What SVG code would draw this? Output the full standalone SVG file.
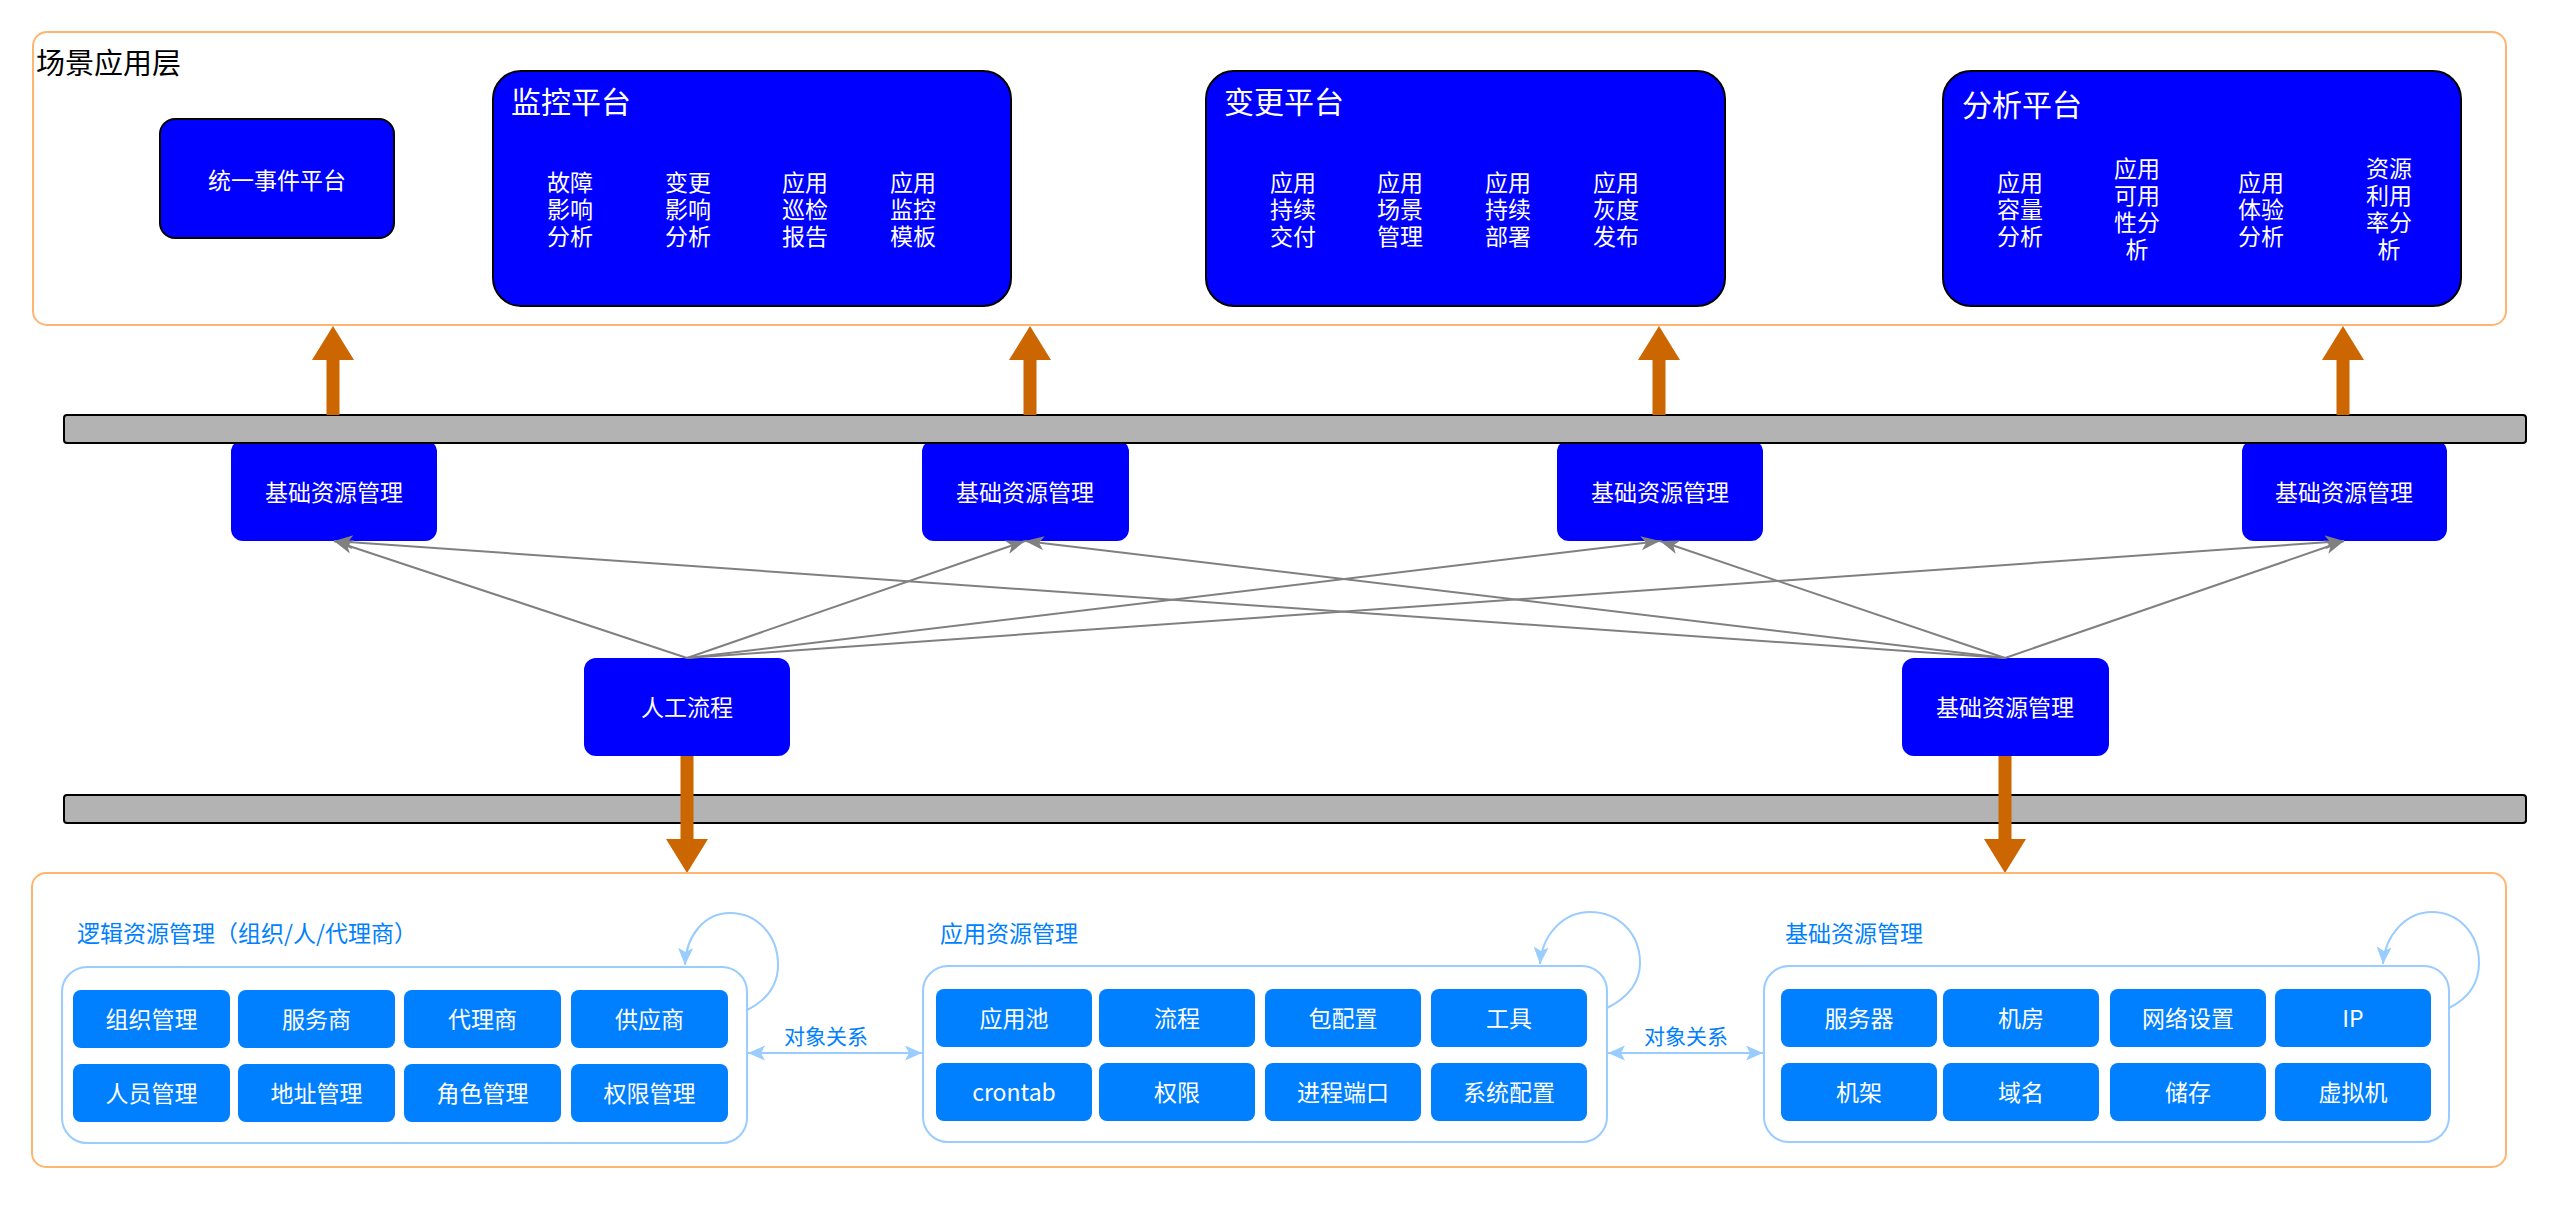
<svg xmlns="http://www.w3.org/2000/svg" width="2560" height="1212" viewBox="0 0 2560 1212">
<defs>
<style>
text{font-family:"Noto Sans CJK SC","Noto Sans",sans-serif;}
.outer{fill:#fff;stroke:#FFB570;stroke-width:2;}
.plat{fill:#0000FF;stroke:#000;stroke-width:2;}
.mid{fill:#0000FF;stroke:none;}
.bar{fill:#B3B3B3;stroke:#000;stroke-width:2;}
.wt{fill:#fff;font-size:23px;text-anchor:middle;}
.pt{fill:#fff;font-size:30px;}
.conn{stroke:#808080;stroke-width:2;fill:none;marker-end:url(#ga);}
.oarr{fill:#CC6600;stroke:none;}
.cont{fill:#fff;stroke:#99CCFF;stroke-width:2;}
.cell{fill:#007FFF;stroke:none;}
.gt{fill:#007FFF;font-size:23px;}
.lb{fill:#007FFF;font-size:21px;text-anchor:middle;}
.lbl{stroke:#99CCFF;stroke-width:2;fill:none;}
</style>
<marker id="ga" markerUnits="userSpaceOnUse" markerWidth="22" markerHeight="16" refX="19" refY="7" orient="auto">
<path d="M0,0 L19,7 L0,14 L5,7 z" fill="#808080"/>
</marker>
<marker id="ba" markerUnits="userSpaceOnUse" markerWidth="20" markerHeight="16" refX="17" refY="7.5" orient="auto-start-reverse">
<path d="M0,0 L17,7.5 L0,15 L4,7.5 z" fill="#99CCFF"/>
</marker>
</defs>
<rect width="2560" height="1212" fill="#fff"/>

<g id="scene-layer">
<rect class="outer" x="33" y="32" width="2473" height="293" rx="14"/>
<text x="36" y="74" font-size="29" fill="#000">场景应用层</text>
</g>

<g id="event-platform">
<rect class="plat" x="160" y="119" width="234" height="119" rx="15"/>
<text class="wt" x="277" y="189">统一事件平台</text>
</g>

<g id="monitor-platform">
<rect class="plat" x="493" y="71" width="518" height="235" rx="28"/>
<text class="pt" x="511" y="113">监控平台</text>
<text class="wt"><tspan x="570" y="191">故障</tspan><tspan x="570" y="218">影响</tspan><tspan x="570" y="245">分析</tspan></text>
<text class="wt"><tspan x="688" y="191">变更</tspan><tspan x="688" y="218">影响</tspan><tspan x="688" y="245">分析</tspan></text>
<text class="wt"><tspan x="805" y="191">应用</tspan><tspan x="805" y="218">巡检</tspan><tspan x="805" y="245">报告</tspan></text>
<text class="wt"><tspan x="913" y="191">应用</tspan><tspan x="913" y="218">监控</tspan><tspan x="913" y="245">模板</tspan></text>
</g>

<g id="change-platform">
<rect class="plat" x="1206" y="71" width="519" height="235" rx="28"/>
<text class="pt" x="1224" y="113">变更平台</text>
<text class="wt"><tspan x="1293" y="191">应用</tspan><tspan x="1293" y="218">持续</tspan><tspan x="1293" y="245">交付</tspan></text>
<text class="wt"><tspan x="1400" y="191">应用</tspan><tspan x="1400" y="218">场景</tspan><tspan x="1400" y="245">管理</tspan></text>
<text class="wt"><tspan x="1508" y="191">应用</tspan><tspan x="1508" y="218">持续</tspan><tspan x="1508" y="245">部署</tspan></text>
<text class="wt"><tspan x="1616" y="191">应用</tspan><tspan x="1616" y="218">灰度</tspan><tspan x="1616" y="245">发布</tspan></text>
</g>

<g id="analysis-platform">
<rect class="plat" x="1943" y="71" width="518" height="235" rx="28"/>
<text class="pt" x="1962" y="116" font-size="32">分析平台</text>
<text class="wt"><tspan x="2020" y="191">应用</tspan><tspan x="2020" y="218">容量</tspan><tspan x="2020" y="245">分析</tspan></text>
<text class="wt"><tspan x="2137" y="177">应用</tspan><tspan x="2137" y="204">可用</tspan><tspan x="2137" y="231">性分</tspan><tspan x="2137" y="258">析</tspan></text>
<text class="wt"><tspan x="2261" y="191">应用</tspan><tspan x="2261" y="218">体验</tspan><tspan x="2261" y="245">分析</tspan></text>
<text class="wt"><tspan x="2389" y="177">资源</tspan><tspan x="2389" y="204">利用</tspan><tspan x="2389" y="231">率分</tspan><tspan x="2389" y="258">析</tspan></text>
</g>

<g id="res-node-1">
<rect class="mid" x="231" y="440" width="206" height="101" rx="12"/>
<text class="wt" x="334" y="501">基础资源管理</text>
</g>
<g id="res-node-2">
<rect class="mid" x="922" y="440" width="207" height="101" rx="12"/>
<text class="wt" x="1025" y="501">基础资源管理</text>
</g>
<g id="res-node-3">
<rect class="mid" x="1557" y="440" width="206" height="101" rx="12"/>
<text class="wt" x="1660" y="501">基础资源管理</text>
</g>
<g id="res-node-4">
<rect class="mid" x="2242" y="440" width="205" height="101" rx="12"/>
<text class="wt" x="2344" y="501">基础资源管理</text>
</g>

<g id="bar-top">
<rect class="bar" x="64" y="415" width="2462" height="28" rx="3"/>
</g>

<g id="manual-flow">
<rect class="mid" x="584" y="658" width="206" height="98" rx="12"/>
<text class="wt" x="687" y="716">人工流程</text>
</g>
<g id="res-node-bottom">
<rect class="mid" x="1902" y="658" width="207" height="98" rx="12"/>
<text class="wt" x="2005" y="716">基础资源管理</text>
</g>

<g id="bar-bottom">
<rect class="bar" x="64" y="795" width="2462" height="28" rx="3"/>
</g>

<g id="connectors">
<polygon class="oarr" points="326.5,415 326.5,360 312,360 333,326 354,360 339.5,360 339.5,415"/>
<polygon class="oarr" points="1023.5,415 1023.5,360 1009,360 1030,326 1051,360 1036.5,360 1036.5,415"/>
<polygon class="oarr" points="1652.5,415 1652.5,360 1638,360 1659,326 1680,360 1665.5,360 1665.5,415"/>
<polygon class="oarr" points="2336.5,415 2336.5,360 2322,360 2343,326 2364,360 2349.5,360 2349.5,415"/>
<polygon class="oarr" points="680.5,756 680.5,839 666,839 687,873 708,839 693.5,839 693.5,756"/>
<polygon class="oarr" points="1998.5,756 1998.5,839 1984,839 2005,873 2026,839 2011.5,839 2011.5,756"/>
<line class="conn" x1="687" y1="658" x2="334" y2="541"/>
<line class="conn" x1="687" y1="658" x2="1025" y2="541"/>
<line class="conn" x1="687" y1="658" x2="1660" y2="541"/>
<line class="conn" x1="687" y1="658" x2="2344" y2="541"/>
<line class="conn" x1="2005" y1="658" x2="334" y2="541"/>
<line class="conn" x1="2005" y1="658" x2="1025" y2="541"/>
<line class="conn" x1="2005" y1="658" x2="1660" y2="541"/>
<line class="conn" x1="2005" y1="658" x2="2344" y2="541"/>
</g>

<g id="resource-layer">
<rect class="outer" x="32" y="873" width="2474" height="294" rx="14"/>
</g>

<g id="logic-res">
<text class="gt" x="77" y="942">逻辑资源管理（组织/人/代理商）</text>
<rect class="cont" x="62" y="967" width="685" height="176" rx="25"/>
<rect class="cell" x="73" y="990" width="157" height="58" rx="8"/><text class="wt" x="151.5" y="1028">组织管理</text>
<rect class="cell" x="238" y="990" width="157" height="58" rx="8"/><text class="wt" x="316.5" y="1028">服务商</text>
<rect class="cell" x="404" y="990" width="157" height="58" rx="8"/><text class="wt" x="482.5" y="1028">代理商</text>
<rect class="cell" x="571" y="990" width="157" height="58" rx="8"/><text class="wt" x="649.5" y="1028">供应商</text>
<rect class="cell" x="73" y="1064" width="157" height="58" rx="8"/><text class="wt" x="151.5" y="1102">人员管理</text>
<rect class="cell" x="238" y="1064" width="157" height="58" rx="8"/><text class="wt" x="316.5" y="1102">地址管理</text>
<rect class="cell" x="404" y="1064" width="157" height="58" rx="8"/><text class="wt" x="482.5" y="1102">角色管理</text>
<rect class="cell" x="571" y="1064" width="157" height="58" rx="8"/><text class="wt" x="649.5" y="1102">权限管理</text>
</g>

<g id="app-res">
<text class="gt" x="940" y="942">应用资源管理</text>
<rect class="cont" x="923" y="966" width="684" height="176" rx="25"/>
<rect class="cell" x="936" y="989" width="156" height="58" rx="8"/><text class="wt" x="1014" y="1027">应用池</text>
<rect class="cell" x="1099" y="989" width="156" height="58" rx="8"/><text class="wt" x="1177" y="1027">流程</text>
<rect class="cell" x="1265" y="989" width="156" height="58" rx="8"/><text class="wt" x="1343" y="1027">包配置</text>
<rect class="cell" x="1431" y="989" width="156" height="58" rx="8"/><text class="wt" x="1509" y="1027">工具</text>
<rect class="cell" x="936" y="1063" width="156" height="58" rx="8"/><text class="wt" x="1014" y="1101">crontab</text>
<rect class="cell" x="1099" y="1063" width="156" height="58" rx="8"/><text class="wt" x="1177" y="1101">权限</text>
<rect class="cell" x="1265" y="1063" width="156" height="58" rx="8"/><text class="wt" x="1343" y="1101">进程端口</text>
<rect class="cell" x="1431" y="1063" width="156" height="58" rx="8"/><text class="wt" x="1509" y="1101">系统配置</text>
</g>

<g id="base-res">
<text class="gt" x="1785" y="942">基础资源管理</text>
<rect class="cont" x="1764" y="966" width="685" height="176" rx="25"/>
<rect class="cell" x="1781" y="989" width="156" height="58" rx="8"/><text class="wt" x="1859" y="1027">服务器</text>
<rect class="cell" x="1943" y="989" width="156" height="58" rx="8"/><text class="wt" x="2021" y="1027">机房</text>
<rect class="cell" x="2110" y="989" width="156" height="58" rx="8"/><text class="wt" x="2188" y="1027">网络设置</text>
<rect class="cell" x="2275" y="989" width="156" height="58" rx="8"/><text class="wt" x="2353" y="1027">IP</text>
<rect class="cell" x="1781" y="1063" width="156" height="58" rx="8"/><text class="wt" x="1859" y="1101">机架</text>
<rect class="cell" x="1943" y="1063" width="156" height="58" rx="8"/><text class="wt" x="2021" y="1101">域名</text>
<rect class="cell" x="2110" y="1063" width="156" height="58" rx="8"/><text class="wt" x="2188" y="1101">储存</text>
<rect class="cell" x="2275" y="1063" width="156" height="58" rx="8"/><text class="wt" x="2353" y="1101">虚拟机</text>
</g>

<g id="relations">
<path class="lbl" marker-end="url(#ba)" d="M747,1010 C767,1000 778,985 778,965 C778,935 757,913 730,913 C705,913 686,935 685,965"/>
<path class="lbl" marker-end="url(#ba)" d="M1607,1008 C1627,998 1640,983 1640,963 C1640,933 1618,912 1590,912 C1563,912 1542,935 1540,964"/>
<path class="lbl" marker-end="url(#ba)" d="M2449,1008 C2469,998 2479,983 2479,963 C2479,933 2458,912 2432,912 C2406,912 2385,935 2383,964"/>
<line class="lbl" marker-start="url(#ba)" marker-end="url(#ba)" x1="748" y1="1053" x2="922" y2="1053"/>
<text class="lb" x="826" y="1044">对象关系</text>
<line class="lbl" marker-start="url(#ba)" marker-end="url(#ba)" x1="1608" y1="1053" x2="1763" y2="1053"/>
<text class="lb" x="1686" y="1044">对象关系</text>
</g>
</svg>
